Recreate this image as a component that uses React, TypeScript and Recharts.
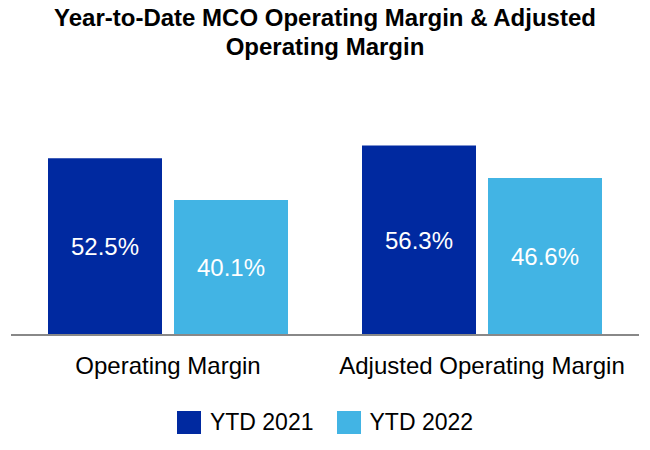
import { BarChart, Bar, XAxis, YAxis, Legend, LabelList } from 'recharts'

const categories = ['Operating Margin', 'Adjusted Operating Margin']
const ytd2021 = [52.5, 56.3]
const ytd2022 = [40.1, 46.6]
const seriesNames = ['YTD 2021', 'YTD 2022']

const DARK = '#0029A0'
const LIGHT = '#42B4E4'
const FONT = '"Liberation Sans", Arial, sans-serif'

const data = categories.map((name, i) => ({
  name,
  y2021: ytd2021[i],
  y2022: ytd2022[i],
}))

const fmt = (v: any) => `${Number(v).toFixed(1)}%`

function LegendContent({ payload }: any) {
  return (
    <div style={{ display: 'flex', justifyContent: 'center', marginTop: 14, fontFamily: FONT, fontSize: 23, color: '#000' }}>
      {(payload || []).map((p: any, i: number) => (
        <div key={i} style={{ display: 'flex', alignItems: 'center', marginRight: i === 0 ? 23 : 0 }}>
          <span style={{ width: 24, height: 23, background: p.color, display: 'inline-block', marginRight: 9 }} />
          <span>{p.value}</span>
        </div>
      ))}
    </div>
  )
}

export default function App() {
  return (
    <div style={{ position: 'absolute', left: 0, top: 0, width: 650, height: 450, background: '#fff' }}>
      <div
        style={{
          position: 'absolute',
          top: 3,
          left: 0,
          width: 650,
          textAlign: 'center',
          fontFamily: FONT,
          fontWeight: 'bold',
          fontSize: 24,
          lineHeight: '29px',
          color: '#000',
        }}
      >
        Year-to-Date MCO Operating Margin &amp; Adjusted
        <br />
        Operating Margin
      </div>
      <BarChart
        width={650}
        height={450}
        data={data}
        margin={{ top: 133, right: 11, bottom: 0, left: 11 }}
        barCategoryGap={37}
        barGap={12}
      >
        <YAxis hide domain={[0, 60]} />
        <XAxis
          dataKey="name"
          axisLine={{ stroke: '#888', strokeWidth: 2 }}
          tickLine={false}
          tick={{ fill: '#000', fontSize: 24, fontFamily: FONT }}
          tickMargin={16}
          height={60}
        />
        <Legend verticalAlign="bottom" height={55} content={<LegendContent />} />
        <Bar dataKey="y2021" name={seriesNames[0]} fill={DARK} isAnimationActive={false}>
          <LabelList dataKey="y2021" position="center" fill="#fff" fontSize={24} fontFamily={FONT} formatter={fmt} />
        </Bar>
        <Bar dataKey="y2022" name={seriesNames[1]} fill={LIGHT} isAnimationActive={false}>
          <LabelList dataKey="y2022" position="center" fill="#fff" fontSize={24} fontFamily={FONT} formatter={fmt} />
        </Bar>
      </BarChart>
    </div>
  )
}
